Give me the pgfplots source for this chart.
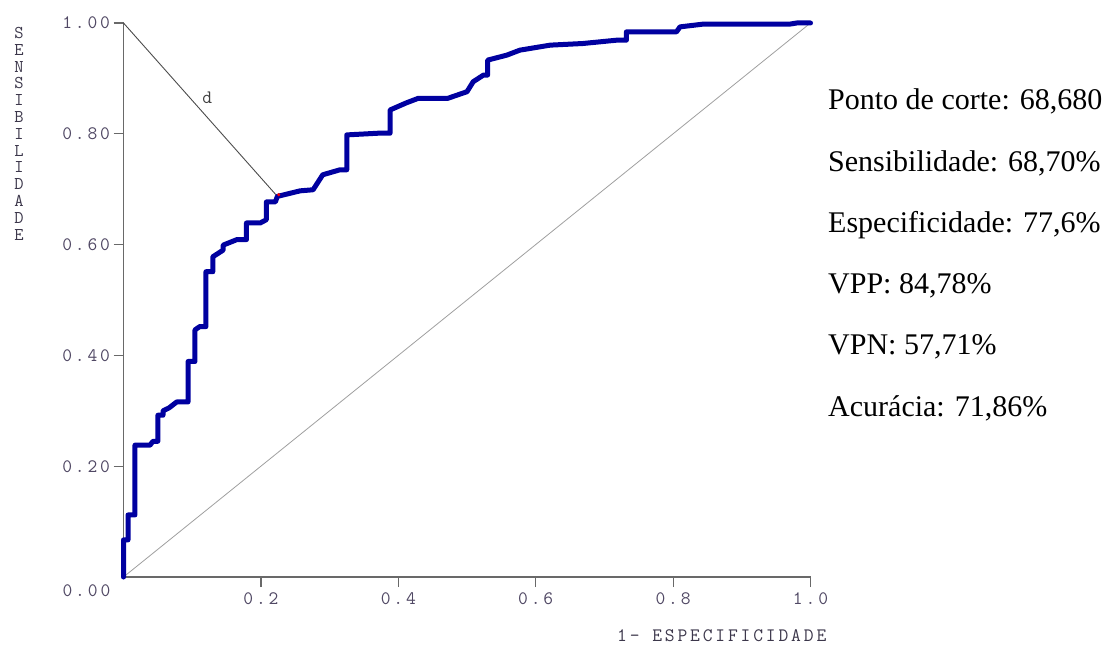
\documentclass[border=0pt]{standalone}
\usepackage{fontspec}
\setmainfont{Liberation Serif}
\newfontfamily\monof[LetterSpace=15]{Latin Modern Mono}
\usepackage{pgfplots}
\pgfplotsset{compat=1.18}
\definecolor{roc}{RGB}{0,0,160}
\definecolor{axgray}{RGB}{105,105,105}
\definecolor{ticklab}{RGB}{80,72,100}
\definecolor{lablab}{RGB}{60,55,75}
\begin{document}
\begin{tikzpicture}[x=1pt,y=1pt]
\useasboundingbox (0,0) rectangle (1118,645);
\begin{axis}[
  at={(123.5pt,68pt)}, anchor=south west,
  width=687pt, height=554pt, scale only axis,
  xmin=0, xmax=1, ymin=0, ymax=1,
  axis x line=bottom, axis y line=left,
  axis line style={-, draw=axgray, line width=1.6pt},
  xtick={0.2,0.4,0.6,0.8,1.0},
  xticklabels={0.2,0.4,0.6,0.8,1.0},
  ytick={0.2,0.4,0.6,0.8,1.0},
  yticklabels={0.20,0.40,0.60,0.80,1.00},
  tick align=outside, major tick length=10pt,
  tick style={draw=axgray, line width=1.2pt},
  ticklabel style={font=\monof\fontsize{19}{19}\selectfont, text=ticklab},
  xticklabel style={yshift=-2pt},
  yticklabel style={xshift=0pt},
  clip=false,
]
\addplot[gray!75, line width=0.8pt] coordinates {(0,0) (1,1)};
\addplot[black!70, line width=0.9pt] coordinates {(0,1) (0.224,0.687)};
\addplot[roc, line width=5pt, line join=round, line cap=round] coordinates {
(0,0) (0,0.067) (0.0066,0.067) (0.0066,0.112) (0.0167,0.112) (0.0167,0.238)
(0.0386,0.238) (0.043,0.245) (0.050,0.245) (0.050,0.292) (0.0575,0.292)
(0.0575,0.300) (0.066,0.305) (0.0775,0.316) (0.094,0.316) (0.094,0.389)
(0.104,0.389) (0.104,0.446) (0.111,0.452) (0.120,0.452) (0.120,0.551)
(0.130,0.551) (0.130,0.578) (0.145,0.590) (0.145,0.599) (0.165,0.609)
(0.179,0.609) (0.179,0.639) (0.199,0.639) (0.208,0.645) (0.208,0.677)
(0.221,0.677) (0.224,0.687) (0.257,0.697) (0.276,0.699) (0.290,0.726)
(0.315,0.735) (0.325,0.735) (0.325,0.798) (0.370,0.801) (0.388,0.801)
(0.388,0.843) (0.412,0.856) (0.429,0.864) (0.472,0.864) (0.500,0.876)
(0.509,0.894) (0.524,0.906) (0.530,0.906) (0.530,0.933) (0.558,0.942)
(0.577,0.951) (0.621,0.960) (0.669,0.963) (0.718,0.969) (0.732,0.969)
(0.732,0.984) (0.805,0.984) (0.810,0.993) (0.844,0.998) (0.970,0.998)
(0.980,1.0) (1.0,1.0)};
\addplot[only marks, mark=*, mark size=1.3pt, red, draw=red] coordinates {(0.226,0.690)};
\node[font=\monof\fontsize{19}{19}\selectfont, text=black!75] at (axis cs:0.122,0.865) {d};
\node[anchor=east, inner sep=0pt, font=\monof\fontsize{19}{19}\selectfont, text=ticklab] at (axis cs:0,0) [xshift=-13pt, yshift=-14pt] {0.00};
\end{axis}
\node[anchor=north, inner sep=0pt, align=center, font=\monof\fontsize{18}{16.8}\selectfont, text=lablab] at (19,618)
 {S\\E\\N\\S\\I\\B\\I\\L\\I\\D\\A\\D\\E};
\node[anchor=west, inner sep=0pt, font=\monof\fontsize{19}{19}\selectfont, text=lablab] at (617,9) {1- ESPECIFICIDADE};
\begin{scope}[every node/.style={anchor=mid west, inner sep=0pt, font=\fontsize{30}{30}\selectfont}]
\node at (828,537.5) {Ponto de corte: 68,680};
\node at (828,476) {Sensibilidade: 68,70\%};
\node at (828,415) {Especificidade: 77,6\%};
\node at (828,353.5) {VPP: 84,78\%};
\node at (828,292.5) {VPN: 57,71\%};
\node at (828,231) {Acurácia: 71,86\%};
\end{scope}
\end{tikzpicture}
\end{document}
